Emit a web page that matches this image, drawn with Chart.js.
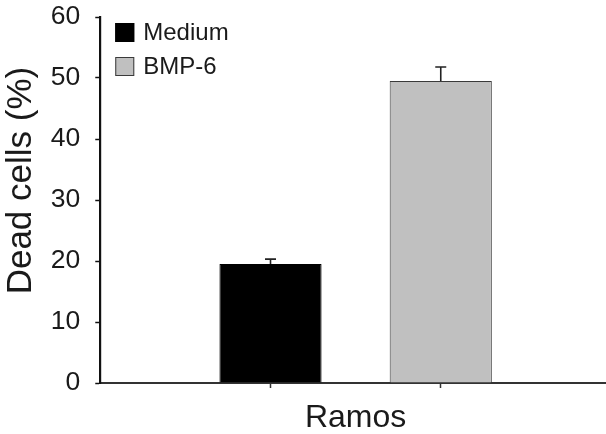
<!DOCTYPE html>
<html>
<head>
<meta charset="utf-8">
<script src="https://cdn.jsdelivr.net/npm/chart.js@4"></script>
<style>
html,body{margin:0;padding:0;background:#fff;overflow:hidden;}
#wrap{width:612px;height:434px;position:relative;}
</style>
</head>
<body>
<div id="wrap"><canvas id="c"></canvas></div>
<script>
const categories = ['Medium', 'BMP-6'];
const values = [19.5, 49.5];
const errors = [0.8, 2.3];
const colors = ['#000000', '#c0c0c0'];
const yTicks = [0, 10, 20, 30, 40, 50, 60];
const xTitle = 'Ramos';
const yTitle = 'Dead cells (%)';

const labels = [''].concat(categories, ['']);
const datasets = categories.map((name, i) => {
  const data = labels.map(() => null);
  data[i + 1] = values[i];
  return {
    label: name,
    data: data,
    errors: labels.map((_, k) => k === i + 1 ? errors[i] : null),
    backgroundColor: colors[i],
    borderColor: i === 0 ? '#000000' : '#3a3a3a',
    borderWidth: 1,
    grouped: false,
    categoryPercentage: 1,
    barPercentage: 0.6
  };
});

const FONT = '"Liberation Sans", Arial, sans-serif';
const TEXT = '#1a1a1a';

const errorBars = {
  id: 'errorBars',
  afterDatasetsDraw(chart) {
    const ctx = chart.ctx;
    const yScale = chart.scales.y;
    ctx.save();
    ctx.strokeStyle = '#222';
    ctx.lineWidth = 1.6;
    chart.data.datasets.forEach((ds, di) => {
      const meta = chart.getDatasetMeta(di);
      meta.data.forEach((bar, k) => {
        const v = ds.data[k];
        const e = ds.errors[k];
        if (v == null || e == null) return;
        const y0 = yScale.getPixelForValue(v);
        const y1 = yScale.getPixelForValue(v + e);
        ctx.beginPath();
        ctx.moveTo(bar.x, y0);
        ctx.lineTo(bar.x, y1);
        ctx.moveTo(bar.x - 5.5, y1);
        ctx.lineTo(bar.x + 5.5, y1);
        ctx.stroke();
      });
    });
    ctx.restore();
  }
};

const insideLegend = {
  id: 'insideLegend',
  afterDraw(chart) {
    const ctx = chart.ctx;
    const area = chart.chartArea;
    const x0 = area.left + 15;
    let y0 = area.top + 6;
    ctx.save();
    ctx.font = '24px ' + FONT;
    ctx.textBaseline = 'middle';
    chart.data.datasets.forEach((ds) => {
      ctx.fillStyle = ds.backgroundColor;
      ctx.fillRect(x0, y0, 19, 19);
      ctx.strokeStyle = ds.borderColor;
      ctx.lineWidth = 1;
      ctx.strokeRect(x0 + 0.5, y0 + 0.5, 18, 18);
      ctx.fillStyle = TEXT;
      ctx.fillText(ds.label, x0 + 28, y0 + 10);
      y0 += 34;
    });
    ctx.restore();
  }
};

new Chart(document.getElementById('c'), {
  type: 'bar',
  data: { labels: labels, datasets: datasets },
  options: {
    responsive: true,
    maintainAspectRatio: false,
    animation: false,
    layout: { padding: { top: 17, right: 1, left: 0, bottom: 0 } },
    plugins: { legend: { display: false }, tooltip: { enabled: false } },
    scales: {
      x: {
        type: 'category',
        offset: false,
        grid: {
          display: true,
          offset: false,
          drawOnChartArea: false,
          drawTicks: true,
          tickLength: 5,
          tickWidth: 1.5,
          tickColor: (c) => (c.index === 0 || c.index === labels.length - 1) ? 'rgba(0,0,0,0)' : '#333'
        },
        border: { display: true, color: '#333', width: 2 },
        ticks: { display: false },
        title: {
          display: true,
          text: xTitle,
          color: TEXT,
          font: { family: FONT, size: 32, lineHeight: 1 },
          padding: { top: 14, bottom: 0 }
        }
      },
      y: {
        type: 'linear',
        min: yTicks[0],
        max: yTicks[yTicks.length - 1],
        afterBuildTicks: (scale) => { scale.ticks = yTicks.map(v => ({ value: v })); },
        grid: {
          display: true,
          drawOnChartArea: false,
          drawTicks: true,
          tickLength: 5,
          tickWidth: 1.5,
          tickColor: '#111'
        },
        border: { display: true, color: '#111', width: 2.2 },
        ticks: {
          color: TEXT,
          padding: 15,
          font: { family: FONT, size: 26.5, lineHeight: 0.15 }
        },
        title: {
          display: true,
          text: '\u00A0\u00A0\u00A0\u00A0' + yTitle,
          color: TEXT,
          font: { family: FONT, size: 35, lineHeight: 0.811 },
          padding: { top: 7.4, bottom: 0 }
        }
      }
    }
  },
  plugins: [errorBars, insideLegend]
});
</script>
</body>
</html>
